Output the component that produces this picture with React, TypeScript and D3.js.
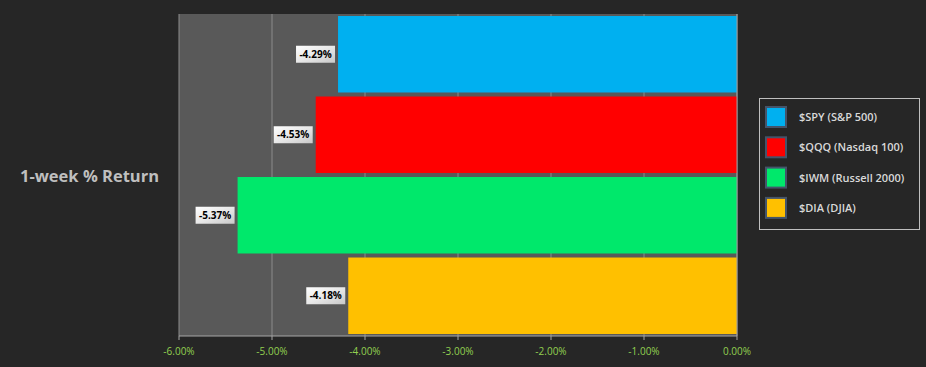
import React from "react";
import * as d3 from "d3";

const categories = ["$SPY (S&P 500)", "$QQQ (Nasdaq 100)", "$IWM (Russell 2000)", "$DIA (DJIA)"];
const values = [-4.29, -4.53, -5.37, -4.18];
const colors = ["#00B0F0", "#FF0000", "#00E86B", "#FFC000"];
const tickValues = [-6, -5, -4, -3, -2, -1, 0];
const title = "1-week % Return";

const W = 926;
const H = 367;
const plot = { left: 179, right: 737, top: 14, bottom: 336 };

export default function App() {
  const x = d3.scaleLinear().domain([-6, 0]).range([plot.left, plot.right]);
  const y = d3
    .scaleBand<string>()
    .domain(categories)
    .range([plot.top, plot.bottom])
    .paddingInner(0.05)
    .paddingOuter(0.025);
  const fmt = (v: number) => d3.format(".2f")(v).replace("\u2212", "-") + "%";
  const font = "'Open Sans', 'Segoe UI', 'DejaVu Sans', sans-serif";

  return (
    <div style={{ position: "fixed", left: 0, top: 0, width: W, height: H }}>
      <svg width={W} height={H} style={{ display: "block", fontFamily: font }}>
        <defs>
          <linearGradient id="lbl" x1="0" y1="0" x2="1" y2="1">
            <stop offset="0" stopColor="#ffffff" />
            <stop offset="0.5" stopColor="#e8e8e8" />
            <stop offset="1" stopColor="#c8c8c8" />
          </linearGradient>
        </defs>
        <rect x={0} y={0} width={W} height={H} fill="#262626" />
        <rect
          x={plot.left}
          y={plot.top}
          width={plot.right - plot.left}
          height={plot.bottom - plot.top}
          fill="#595959"
        />
        {tickValues.map((t) => (
          <line
            key={"g" + t}
            x1={x(t)}
            x2={x(t)}
            y1={plot.top}
            y2={plot.bottom}
            stroke="#8c8c8c"
            strokeWidth={1}
          />
        ))}
        {categories.map((c, i) => (
          <rect
            key={c}
            x={x(values[i])}
            y={y(c)}
            width={x(0) - x(values[i])}
            height={y.bandwidth()}
            fill={colors[i]}
          />
        ))}
        <line x1={x(0)} x2={x(0)} y1={plot.top} y2={plot.bottom} stroke="#9a9a9a" />
        <line x1={plot.left} x2={plot.right} y1={plot.bottom} y2={plot.bottom} stroke="#a6a6a6" />
        {tickValues.map((t) => (
          <g key={"t" + t}>
            <line x1={x(t)} x2={x(t)} y1={plot.bottom} y2={plot.bottom + 4} stroke="#a6a6a6" />
            <text
              x={x(t)}
              y={plot.bottom + 19}
              textAnchor="middle"
              fontSize={10}
              fill="#92D050"
            >
              {fmt(t)}
            </text>
          </g>
        ))}
        {categories.map((c, i) => {
          const cy = (y(c) as number) + y.bandwidth() / 2;
          const right = x(values[i]) - 3;
          const w = 39;
          return (
            <g key={"l" + c}>
              <rect x={right - w} y={cy - 8.5} width={w} height={17} fill="url(#lbl)" />
              <text
                x={right - w / 2}
                y={cy + 3.5}
                textAnchor="middle"
                fontSize={10}
                fontWeight="bold"
                fill="#000"
              >
                {fmt(values[i])}
              </text>
            </g>
          );
        })}
        <text x={20} y={182} fontSize={16.5} fontWeight="bold" fill="#bfbfbf">
          {title}
        </text>
        <rect x={759.5} y={98.5} width={160} height={131} fill="none" stroke="#bfbfbf" />
        {categories.map((c, i) => {
          const cy = 117 + i * 30.3;
          return (
            <g key={"lg" + c}>
              <rect
                x={766}
                y={cy - 10}
                width={20}
                height={20}
                fill={colors[i]}
                stroke="#44546A"
                strokeWidth={2}
              />
              <text x={799} y={cy + 4} fontSize={11} fontWeight={600} fill="#d9d9d9">
                {c}
              </text>
            </g>
          );
        })}
      </svg>
    </div>
  );
}
